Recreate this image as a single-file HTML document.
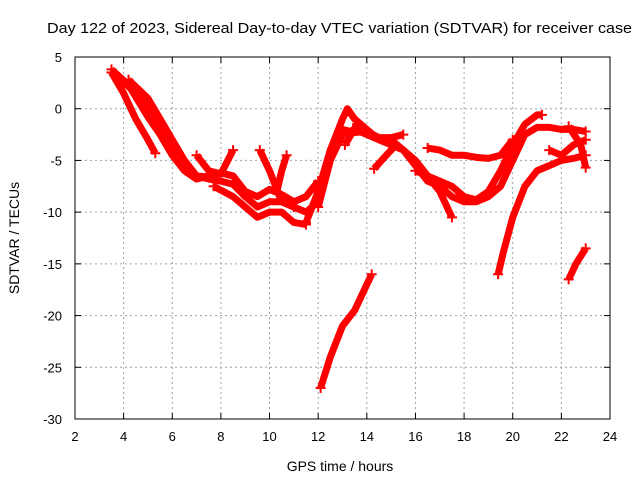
<!DOCTYPE html>
<html><head><meta charset="utf-8"><style>
body{margin:0;background:#fff}
svg{font-family:"Liberation Sans",sans-serif}
</style></head><body>
<svg id="chart" width="640" height="480" xmlns="http://www.w3.org/2000/svg">
<text x="47" y="33" font-size="15" textLength="585" lengthAdjust="spacingAndGlyphs">Day 122 of 2023, Sidereal Day-to-day VTEC variation (SDTVAR) for receiver case</text>
<text transform="translate(19,238) rotate(-90)" font-size="14" text-anchor="middle">SDTVAR / TECUs</text>
<text x="340" y="471" font-size="14" text-anchor="middle">GPS time / hours</text>
<g id="grid"></g><g id="ticks"></g><g id="series"></g>
<rect x="75" y="57" width="535" height="362" fill="none" stroke="#000" stroke-width="1"/>
</svg>
<script>
const xTicks=[2,4,6,8,10,12,14,16,18,20,22,24];
const yTicks=[5,0,-5,-10,-15,-20,-25,-30];
const tA=[[3.5,3.5],[4,1.5],[4.5,-1],[5,-3],[5.3,-4.3]];
const tB=[[3.5,3.8],[4.2,2.3],[5,-0.8],[5.5,-2.5],[6,-4.5],[6.5,-6],[7,-6.8],[7.5,-6.5],[8,-6.2],[8.5,-6.5],[9,-8],[9.5,-8.5],[10,-7.8],[10.5,-8.3],[11,-9],[11.5,-8.5],[12,-7]];
const tC=[[4.2,2.8],[5,1],[5.5,-1],[6,-3],[6.5,-5],[7,-6.5],[7.5,-6.8],[8,-7],[8.5,-7.3],[9,-8.5],[9.5,-9.5],[10,-9],[10.5,-9],[11,-9.5],[11.5,-10],[12,-9]];
const tS=[[3.8,3],[4.5,1.5],[5,0],[5.5,-1.8],[6,-3.8],[6.5,-5.6],[7,-6.5],[7.5,-6.6]];
const tD=[[7.7,-7.5],[8.5,-8.5],[9,-9.5],[9.5,-10.5],[10,-10],[10.5,-10],[11,-11],[11.5,-11.2]];
const tE=[[7,-4.5],[7.5,-6],[8,-6.3],[8.5,-4]];
const tF=[[9.6,-4],[10,-6],[10.5,-9],[11,-9.5]];
const tF2=[[10.7,-4.5],[10.5,-6],[10.3,-8]];
const tG=[[11.5,-11],[12,-8],[12.5,-4],[13,-1],[13.2,0],[13.5,-1],[14,-2],[14.5,-3],[15,-3],[15.5,-4],[16,-5],[16.5,-6.5],[17,-8],[17.5,-10.5]];
const tH=[[12,-9.5],[12.5,-5],[13,-2.5],[13.5,-2],[14,-2.5],[14.5,-3],[15,-3.5],[15.5,-4],[16,-5.5],[16.5,-7],[17,-7.5],[17.5,-8.5],[18,-9],[18.5,-9],[19,-8.5],[19.5,-7.5],[20,-5],[20.5,-2.5],[21,-1.8],[21.5,-1.8],[22,-2],[22.5,-2],[23,-2.2]];
const tI=[[12,-8],[12.5,-4],[13,-2],[13.5,-2.3],[14,-2.2],[14.5,-2.8],[15,-2.8],[15.5,-2.5]];
const tJ=[[16,-6],[16.5,-6.5],[17,-7],[17.5,-7.5],[18,-8.5],[18.5,-8.8],[19,-8],[19.5,-6],[20,-3.5],[20.5,-1.5],[21,-0.6],[21.2,-0.6]];
const tK=[[16.5,-3.8],[17,-4],[17.5,-4.5],[18,-4.5],[18.5,-4.7],[19,-4.8],[19.5,-4.5],[20,-3]];
const tL=[[21.5,-4],[22,-4.5],[22.5,-3.5],[23,-3]];
const tM=[[22.3,-1.7],[22.8,-3.5],[23,-5.7]];
const tN=[[19.4,-16],[19.6,-14],[20,-10.5],[20.5,-7.5],[21,-6],[21.5,-5.5],[22,-5],[22.5,-4.8],[23,-4.5]];
const tO=[[12.1,-27],[12.5,-24],[13,-21],[13.5,-19.5],[14,-17],[14.2,-16]];
const tP=[[22.3,-16.5],[22.6,-15],[23,-13.5]];
const tQ=[[14.3,-5.8],[14.8,-4.5],[15.2,-3.5]];
const tR=[[13.1,-3.5],[13.6,-1.5]];
const tracks=[tA,tB,tC,tS,tD,tE,tF,tF2,tG,tH,tI,tJ,tK,tL,tM,tN,tO,tP,tQ,tR];
const X=h=>75+(h-2)*(535/22);
const Y=v=>57+(5-v)*(362/35);
const ns="http://www.w3.org/2000/svg";
const g=document.getElementById('grid'),tk=document.getElementById('ticks'),s=document.getElementById('series');
function mk(tag,at,par){const e=document.createElementNS(ns,tag);for(const k in at)e.setAttribute(k,at[k]);par.appendChild(e);return e;}
xTicks.forEach(t=>{
 const x=X(t);
 if(t>2&&t<24){const l=mk('line',{x1:x,x2:x,y1:57,y2:419,stroke:'#a0a0a0','stroke-dasharray':'2,3'},g);
 
 }
 mk('line',{x1:x,x2:x,y1:419,y2:413,stroke:'#000'},tk);
 mk('line',{x1:x,x2:x,y1:57,y2:63,stroke:'#000'},tk);
 const tx=mk('text',{x:x,y:441,'font-size':13,'text-anchor':'middle'},tk);tx.textContent=t;
 
 
});
yTicks.forEach(t=>{
 const y=Y(t);
 if(t<5&&t>-30){const l=mk('line',{x1:75,x2:610,y1:y,y2:y,stroke:'#a0a0a0','stroke-dasharray':'2,3'},g);
 
 }
 mk('line',{x1:75,x2:81,y1:y,y2:y,stroke:'#000'},tk);
 mk('line',{x1:610,x2:604,y1:y,y2:y,stroke:'#000'},tk);
 const tx=mk('text',{x:62,y:y+5,'font-size':13,'text-anchor':'end'},tk);tx.textContent=t;
 
 
});
tracks.forEach(tr=>{
 const p=mk('polyline',{points:tr.map(d=>X(d[0])+','+Y(d[1])).join(' '),fill:'none',stroke:'#ff0000','stroke-width':7,'stroke-linejoin':'round'},s);
 
 
 [tr[0],tr[tr.length-1]].forEach(d=>{
  const c=mk('path',{d:`M${X(d[0])-5},${Y(d[1])}h10M${X(d[0])},${Y(d[1])-5}v10`,stroke:'#ff0000','stroke-width':2},s);
  
  
 });
});
</script>
</body></html>
